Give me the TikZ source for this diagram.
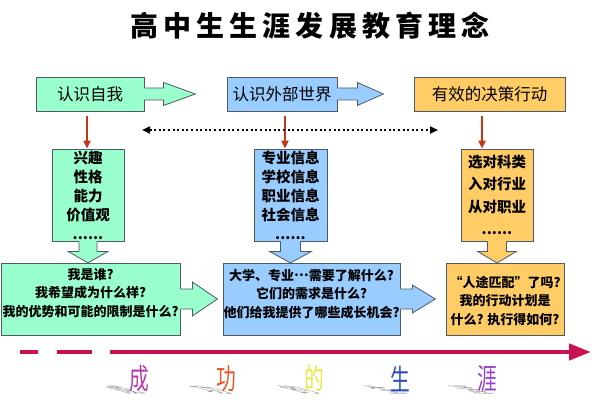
\documentclass[tikz,border=0pt]{standalone}
\usepackage{fontspec}
\setmainfont{Noto Sans CJK SC}
\newfontfamily\spacedcjk[LetterSpace=18]{Noto Sans CJK SC}
\usetikzlibrary{arrows.meta,calc}

\definecolor{mint}{RGB}{153,255,204}
\definecolor{sky}{RGB}{153,204,255}
\definecolor{gold}{RGB}{255,204,102}
\definecolor{rim}{RGB}{80,90,100}
\definecolor{rust}{RGB}{192,56,24}
\definecolor{rose}{RGB}{204,16,84}
\definecolor{chengc}{RGB}{180,60,170}
\definecolor{gongc}{RGB}{232,90,42}
\definecolor{dec}{RGB}{230,230,70}
\definecolor{shengc}{RGB}{44,76,192}
\definecolor{yac}{RGB}{154,64,200}

\tikzset{
  panel/.style={draw=rim, line width=0.8pt, inner sep=0pt},
  toplabel/.style={font=\fontsize{16.5}{20}\selectfont},
  infotext/.style={align=center, font=\bfseries\fontsize{14.5}{19}\selectfont},
  asktext/.style={align=center, inner sep=0pt, font=\bfseries\fontsize{13}{18.5}\selectfont},
  bigchar/.style={anchor=south, inner sep=0pt, font=\fontsize{29}{29}\selectfont},
  bigshade/.style={bigchar, transform shape, text=black!45}
}

% side arrow of a callout box: node, colour, shaft, head, shaft half, head half
\newcommand{\rcall}[6]{%
  \fill[#2] ($(#1.east)+(-1,-#5)$) -- ($(#1.east)+(#3,-#5)$) -- ($(#1.east)+(#3,-#6)$)
    -- ($(#1.east)+(#3+#4,0)$) -- ($(#1.east)+(#3,#6)$) -- ($(#1.east)+(#3,#5)$)
    -- ($(#1.east)+(-1,#5)$) -- cycle;
  \draw[rim, line width=0.8pt] ($(#1.east)+(0,-#5)$) -- ($(#1.east)+(#3,-#5)$) -- ($(#1.east)+(#3,-#6)$)
    -- ($(#1.east)+(#3+#4,0)$) -- ($(#1.east)+(#3,#6)$) -- ($(#1.east)+(#3,#5)$)
    -- ($(#1.east)+(0,#5)$);}
% down arrow of a callout box
\newcommand{\dcall}[6]{%
  \fill[#2] ($(#1.south)+(-#5,-1)$) -- ($(#1.south)+(-#5,#3)$) -- ($(#1.south)+(-#6,#3)$)
    -- ($(#1.south)+(0,#3+#4)$) -- ($(#1.south)+(#6,#3)$) -- ($(#1.south)+(#5,#3)$)
    -- ($(#1.south)+(#5,-1)$) -- cycle;
  \draw[rim, line width=0.8pt] ($(#1.south)+(-#5,0)$) -- ($(#1.south)+(-#5,#3)$) -- ($(#1.south)+(-#6,#3)$)
    -- ($(#1.south)+(0,#3+#4)$) -- ($(#1.south)+(#6,#3)$) -- ($(#1.south)+(#5,#3)$)
    -- ($(#1.south)+(#5,0)$);}
% shadow lying behind a big letter
\newcommand{\floorshade}[2]{%
  \begin{scope}[shift={(#1,394)}, xslant=-3.8, yscale=0.32]
    \node[bigshade] at (0,0) {\scalebox{0.68}[1]{#2}};
  \end{scope}}

\begin{document}
\begin{tikzpicture}[x=1pt,y=-1pt,>={Triangle[length=8pt,width=7pt]}]
	\useasboundingbox (0,0) rectangle (604,403);
	\node[font=\spacedcjk\bfseries\fontsize{28}{30}\selectfont] (title) at (310,26) {高中生生涯发展教育理念};

	% top row
	\node[panel, toplabel, fill=mint, minimum width=108pt, minimum height=34pt] (self) at (90,94) {认识自我};
	\node[panel, toplabel, fill=sky, minimum width=110pt, minimum height=34pt] (world) at (282,94) {认识外部世界};
	\node[panel, toplabel, fill=gold, minimum width=151pt, minimum height=34pt] (act) at (489.5,94) {有效的决策行动};
	\rcall{self}{mint}{19}{32}{6}{11.5}
	\rcall{world}{sky}{20}{26}{6}{11.5}

	% middle row
	\node[panel, infotext, fill=mint, minimum width=72pt, minimum height=92pt] (selfinfo) at (88,195) {兴趣\\性格\\能力\\价值观\\......};
	\node[panel, infotext, fill=sky, minimum width=73pt, minimum height=92pt] (worldinfo) at (290.5,195) {专业信息\\学校信息\\职业信息\\社会信息\\......};
	\node[panel, infotext, fill=gold, minimum width=72pt, minimum height=92pt, font=\bfseries\fontsize{14.5}{22.5}\selectfont] (actinfo) at (497,195) {选对科类\\入对行业\\从对职业\\......};
	\dcall{selfinfo}{mint}{10}{11.5}{9}{20}
	\dcall{worldinfo}{sky}{10}{11.5}{10}{21}
	\dcall{actinfo}{gold}{10}{11.5}{9.5}{19.5}

	\coordinate (a1) at ($(selfinfo.north)+(-1,0)$);
	\coordinate (a2) at ($(worldinfo.north)+(-5.5,0)$);
	\coordinate (a3) at ($(actinfo.north)+(-15,0)$);
	\draw[rust, line width=2pt, ->, shorten <=5pt] (a1 |- self.south) -- (a1);
	\draw[rust, line width=2pt, ->, shorten <=5pt] (a2 |- world.south) -- (a2);
	\draw[rust, line width=2pt, ->, shorten <=5pt] (a3 |- act.south) -- (a3);

	\coordinate (dl) at (142,130);
	\coordinate (dr) at (438,130);
	\draw[line width=2pt, dash pattern=on 2pt off 2.6pt, <->] (dl) -- (dr);

	% bottom row
	\node[panel, fill=mint, minimum width=179pt, minimum height=72pt] (selfq) at (90.5,299) {};
	\node[panel, fill=sky, minimum width=177pt, minimum height=72pt] (worldq) at (311.5,299) {};
	\node[panel, fill=gold, minimum width=118pt, minimum height=72pt] (actq) at (505,299) {};
	\rcall{selfq}{mint}{12}{25}{10}{17}
	\rcall{worldq}{sky}{12}{23}{10}{14}
	\node[asktext] (selfqt) at ([yshift=6pt]selfq.center) {我是谁?\\我希望成为什么样?\\我的优势和可能的限制是什么?};
	\node[asktext] (worldqt) at ([yshift=5pt]worldq.center) {大学、专业\raisebox{0.3em}{…}需要了解什么?\\它们的需求是什么?\\他们给我提供了哪些成长机会?};
	\node[asktext] (actqt) at ([yshift=-2pt]actq.center) {“人途匹配”了吗?\\我的行动计划是\\什么? 执行得如何?};

	% time line
	\coordinate (t0) at (20,352);
	\coordinate (t1) at (591,352);
	\draw[rose, line width=4.5pt, dash pattern=on 18pt off 19pt on 35pt off 18pt on 600pt, -{Triangle[length=22pt,width=16pt]}] (t0) -- (t1);

	\floorshade{139}{成}
	\floorshade{226}{功}
	\floorshade{314}{的}
	\floorshade{400}{生}
	\floorshade{487}{涯}
	\node[bigchar, text=chengc] (w1) at (139,392) {\scalebox{0.68}[1]{成}};
	\node[bigchar, text=gongc] (w2) at (226,392) {\scalebox{0.68}[1]{功}};
	\node[bigchar, text=dec] (w3) at (314,392) {\scalebox{0.68}[1]{的}};
	\node[bigchar, text=shengc] (w4) at (400,392) {\scalebox{0.68}[1]{生}};
	\node[bigchar, text=yac] (w5) at (487,392) {\scalebox{0.68}[1]{涯}};
\end{tikzpicture}
\end{document}
